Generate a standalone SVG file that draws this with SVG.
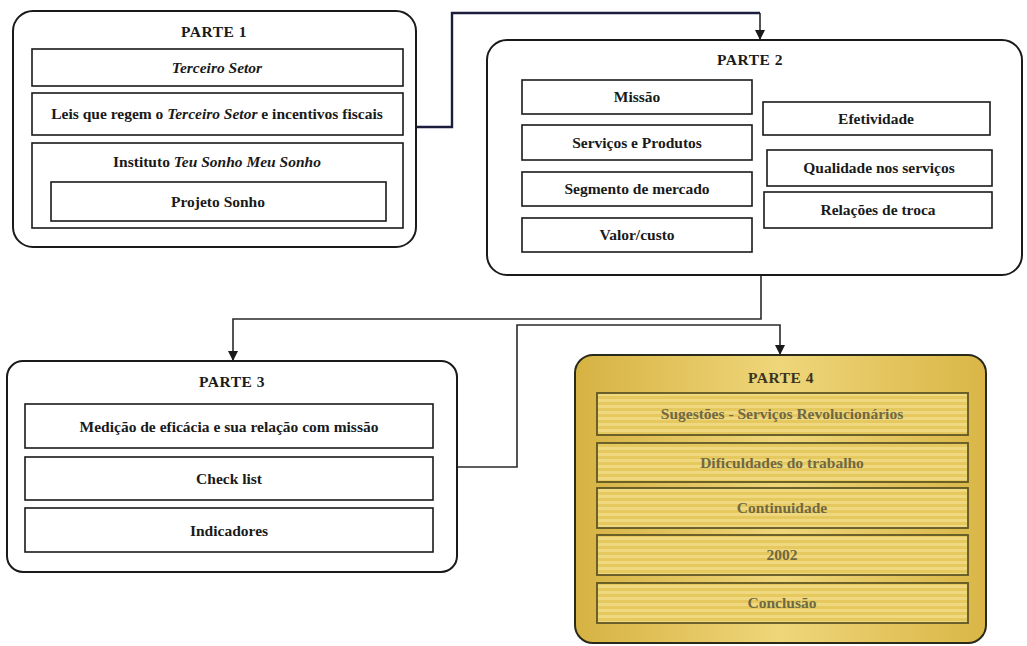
<svg xmlns="http://www.w3.org/2000/svg" width="1027" height="646" viewBox="0 0 1027 646">
<style>
text{font-family:"Liberation Serif","Times New Roman",serif;font-size:15.5px;font-weight:bold;fill:#1a1a1a;text-anchor:middle}
.outer{fill:#fff;stroke:#1a1a1a;stroke-width:2}
.box{fill:#fff;stroke:#1a1a1a;stroke-width:1.6}
.gold{fill:url(#gg);stroke:#2a2a1a;stroke-width:2}
.gbox{fill:url(#stripes);stroke:#5e5624;stroke-width:1.8}
.gt{fill:#6f6842}
.title{font-size:15.5px;letter-spacing:0.5px}
.conn{fill:none;stroke:#2a2a2a;stroke-width:1.6}
.it{font-style:italic}
</style>
<defs>
<linearGradient id="gg" x1="0" y1="0" x2="1" y2="0">
<stop offset="0" stop-color="#d6b242"/>
<stop offset="0.5" stop-color="#efd67a"/>
<stop offset="1" stop-color="#d9b646"/>
</linearGradient>
<pattern id="stripes" patternUnits="userSpaceOnUse" width="20" height="6">
<rect width="20" height="6" fill="#e6c95e"/>
<rect y="3" width="20" height="3" fill="#efd880"/>
</pattern>
<marker id="arr" markerWidth="10" markerHeight="10" refX="10" refY="5" orient="auto" markerUnits="userSpaceOnUse" viewBox="0 0 10 10">
<path d="M0,0 L10,5 L0,10 Z" fill="#1a1a1a"/>
</marker>
</defs>

<g id="connectors">
<polyline class="conn" points="416,127 452,127 452,13 760,13" style="stroke:#1c1c3c;stroke-width:2.4"/>
<line class="conn" x1="760" y1="13" x2="760" y2="40" marker-end="url(#arr)"/>
<polyline class="conn" points="761,275 761,319 233,319 233,361" marker-end="url(#arr)"/>
<polyline class="conn" points="457,467 517,467 517,325 780,325 780,355" marker-end="url(#arr)"/>
</g>

<g id="parte1">
<rect class="outer" x="13" y="11" width="403" height="236" rx="20"/>
<text class="title" x="214" y="37">PARTE 1</text>
<rect class="box" x="32" y="49" width="371" height="37"/>
<text class="it" x="217" y="73">Terceiro Setor</text>
<rect class="box" x="32" y="93" width="371" height="42"/>
<text x="217" y="119">Leis que regem o <tspan class="it">Terceiro Setor</tspan> e incentivos fiscais</text>
<rect class="box" x="32" y="143" width="371" height="85"/>
<text x="217" y="167">Instituto <tspan class="it">Teu Sonho Meu Sonho</tspan></text>
<rect class="box" x="51" y="182" width="335" height="39"/>
<text x="218" y="207">Projeto Sonho</text>
</g>

<g id="parte2">
<rect class="outer" x="487" y="40" width="535" height="235" rx="20"/>
<text class="title" x="750" y="65">PARTE 2</text>
<rect class="box" x="522" y="80" width="230" height="34"/>
<text x="637" y="102">Missão</text>
<rect class="box" x="522" y="125" width="230" height="35"/>
<text x="637" y="148">Serviços e Produtos</text>
<rect class="box" x="522" y="172" width="230" height="34"/>
<text x="637" y="194">Segmento de mercado</text>
<rect class="box" x="522" y="218" width="230" height="34"/>
<text x="637" y="240">Valor/custo</text>
<rect class="box" x="763" y="102" width="227" height="33"/>
<text x="876" y="124">Efetividade</text>
<rect class="box" x="767" y="150" width="225" height="36"/>
<text x="879" y="173">Qualidade nos serviços</text>
<rect class="box" x="764" y="192" width="228" height="36"/>
<text x="878" y="215">Relações de troca</text>
</g>

<g id="parte3">
<rect class="outer" x="7" y="361" width="450" height="211" rx="16"/>
<text class="title" x="232" y="387">PARTE 3</text>
<rect class="box" x="25" y="404" width="408" height="44"/>
<text x="229" y="432">Medição de eficácia e sua relação com missão</text>
<rect class="box" x="25" y="457" width="408" height="43"/>
<text x="229" y="484">Check list</text>
<rect class="box" x="25" y="508" width="408" height="44"/>
<text x="229" y="536">Indicadores</text>
</g>

<g id="parte4">
<rect class="gold" x="575" y="355" width="411" height="288" rx="18"/>
<text class="title" x="781" y="383" style="fill:#3a3420">PARTE 4</text>
<rect class="gbox" x="597" y="393" width="371" height="42"/>
<text class="gt" x="782" y="419">Sugestões - Serviços Revolucionários</text>
<rect class="gbox" x="597" y="443" width="371" height="39"/>
<text class="gt" x="782" y="468">Dificuldades do trabalho</text>
<rect class="gbox" x="597" y="488" width="371" height="40"/>
<text class="gt" x="782" y="513">Continuidade</text>
<rect class="gbox" x="597" y="535" width="371" height="40"/>
<text class="gt" x="782" y="560">2002</text>
<rect class="gbox" x="597" y="583" width="371" height="40"/>
<text class="gt" x="782" y="608">Conclusão</text>
</g>
</svg>
